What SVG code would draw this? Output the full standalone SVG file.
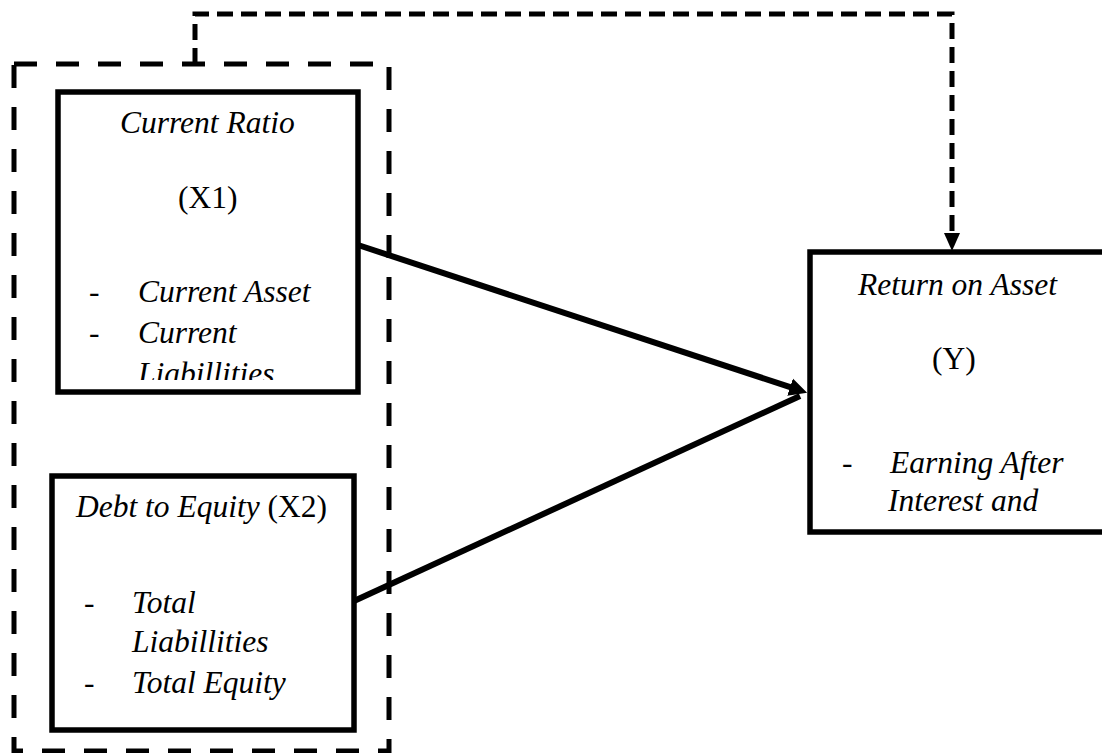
<svg xmlns="http://www.w3.org/2000/svg" width="1102" height="753" viewBox="0 0 1102 753">
  <style>
    text { font-family: "Liberation Serif", "Times New Roman", serif; font-size: 31.5px; fill: #000; }
    .it { font-style: italic; }
    .box { fill: none; stroke: #000; stroke-width: 5.5; }
    .group { fill: none; stroke: #000; stroke-width: 5; stroke-dasharray: 23 19; }
    .dash { fill: none; stroke: #000; stroke-width: 5; stroke-dasharray: 16 8; }
    .solid { fill: none; stroke: #000; stroke-width: 6; }
  </style>
  <defs>
    <marker id="ah" markerUnits="userSpaceOnUse" markerWidth="20" markerHeight="20" refX="1" refY="9" orient="auto" viewBox="0 0 20 18">
      <path d="M0,0 L18,9 L0,18 z" fill="#000"/>
    </marker>
    <marker id="ah2" markerUnits="userSpaceOnUse" markerWidth="20" markerHeight="18" refX="1" refY="8" orient="auto" viewBox="0 0 20 16">
      <path d="M0,0 L18,8 L0,16 z" fill="#000"/>
    </marker>
    <clipPath id="clip1">
      <rect x="58" y="92" width="300" height="288"/>
    </clipPath>
  </defs>

  <g id="group-box">
    <rect class="group" x="14" y="64" width="375" height="687"/>
  </g>

  <g id="connectors">
    <path class="dash" d="M195,64 V14 H952 V234" marker-end="url(#ah2)"/>
    <line class="solid" x1="358" y1="245" x2="791" y2="387.4" marker-end="url(#ah)"/>
    <line class="solid" x1="354" y1="601" x2="800" y2="396"/>
  </g>

  <g id="node-x1">
    <rect class="box" x="58" y="92" width="300" height="300"/>
    <text class="it" x="120" y="133">Current Ratio</text>
    <text x="178" y="208">(X1)</text>
    <g clip-path="url(#clip1)">
      <text x="89" y="302">-</text>
      <text class="it" x="138" y="302">Current Asset</text>
      <text x="89" y="343">-</text>
      <text class="it" x="138" y="343">Current</text>
      <text class="it" x="138" y="384">Liabillities</text>
    </g>
  </g>

  <g id="node-x2">
    <rect class="box" x="52" y="476" width="302" height="254"/>
    <text x="76" y="517"><tspan class="it">Debt to Equity</tspan> (X2)</text>
    <text x="84" y="613">-</text>
    <text class="it" x="132" y="613">Total</text>
    <text class="it" x="132" y="652">Liabillities</text>
    <text x="84" y="693">-</text>
    <text class="it" x="132" y="693">Total Equity</text>
  </g>

  <g id="node-y">
    <rect class="box" x="810" y="252" width="300" height="280"/>
    <text class="it" x="858" y="295">Return on Asset</text>
    <text x="932" y="369">(Y)</text>
    <text x="842" y="473">-</text>
    <text class="it" x="890" y="473">Earning After</text>
    <text class="it" x="888" y="511">Interest and</text>
  </g>
</svg>
